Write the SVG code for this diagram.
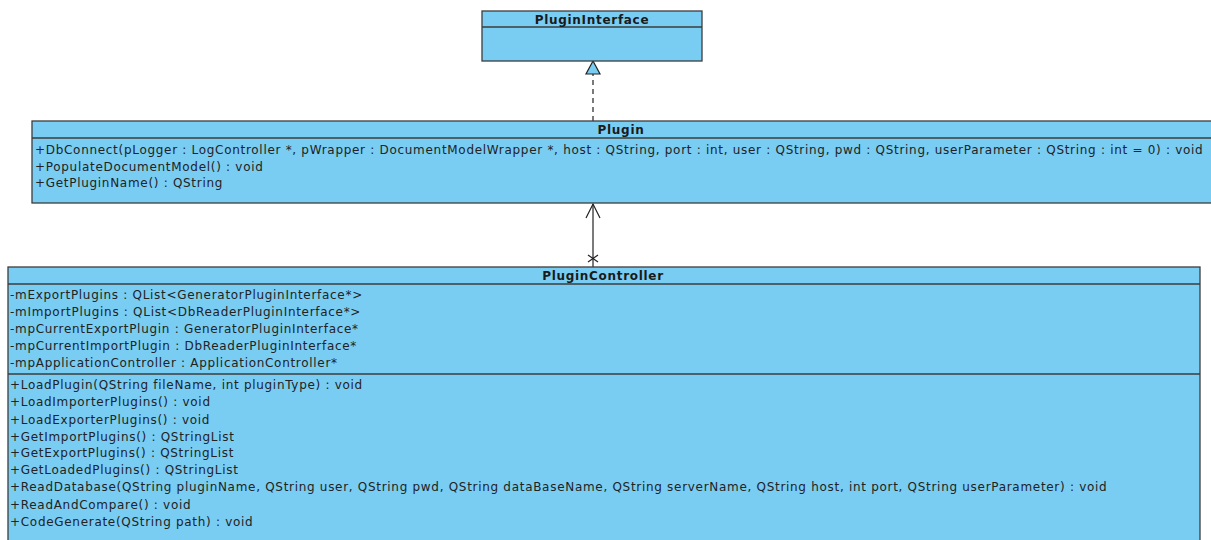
<svg xmlns="http://www.w3.org/2000/svg" width="1211" height="540" viewBox="0 0 1211 540">
  <style>
    .box { fill: #79cdf3; stroke: #3c3c3c; stroke-width: 1.3; }
    .sep { stroke: #3c3c3c; stroke-width: 1.3; }
    .title { font-family: "DejaVu Sans", Verdana, sans-serif; font-size: 12px; letter-spacing: 0.7px; font-weight: bold; fill: #1a1a1a; text-anchor: middle; }
    .member { font-family: "DejaVu Sans", Verdana, sans-serif; font-size: 12px; letter-spacing: 0.7px; fill: #222222; }
    .edge { stroke: #222; stroke-width: 1.2; fill: none; }
  </style>
  <rect width="1211" height="540" fill="#ffffff"/>

  <!-- connectors -->
  <g id="connectors">
    <!-- realization: Plugin -> PluginInterface -->
    <line class="edge" x1="593" y1="121" x2="593" y2="74" stroke-dasharray="5,4"/>
    <polygon points="593,61 586,74 600,74" fill="#79cdf3" stroke="#222" stroke-width="1.2"/>
    <!-- navigable association: PluginController -> Plugin -->
    <line class="edge" x1="593" y1="204" x2="593" y2="267"/>
    <polyline class="edge" points="586,218 593,204 600,218"/>
    <line class="edge" x1="588" y1="255" x2="598" y2="262"/>
    <line class="edge" x1="588" y1="262" x2="598" y2="255"/>
  </g>

  <!-- PluginInterface -->
  <g id="PluginInterface">
    <rect class="box" x="482" y="11" width="220" height="50"/>
    <line class="sep" x1="482" y1="27" x2="702" y2="27"/>
    <text class="title" x="592" y="24">PluginInterface</text>
  </g>

  <!-- Plugin -->
  <g id="Plugin">
    <rect class="box" x="32" y="121" width="1180" height="82"/>
    <line class="sep" x1="32" y1="138" x2="1212" y2="138"/>
    <text class="title" x="621" y="134">Plugin</text>
    <text class="member" x="35" y="154">+DbConnect(pLogger : LogController *, pWrapper : DocumentModelWrapper *, host : QString, port : int, user : QString, pwd : QString, userParameter : QString : int = 0) : void</text>
    <text class="member" x="35" y="171">+PopulateDocumentModel() : void</text>
    <text class="member" x="35" y="187">+GetPluginName() : QString</text>
  </g>

  <!-- PluginController -->
  <g id="PluginController">
    <rect class="box" x="8" y="267" width="1192" height="280"/>
    <line class="sep" x1="8" y1="284" x2="1200" y2="284"/>
    <line class="sep" x1="8" y1="374" x2="1200" y2="374"/>
    <text class="title" x="603" y="280">PluginController</text>
    <text class="member" x="10" y="299">-mExportPlugins : QList&lt;GeneratorPluginInterface*&gt;</text>
    <text class="member" x="10" y="316">-mImportPlugins : QList&lt;DbReaderPluginInterface*&gt;</text>
    <text class="member" x="10" y="333">-mpCurrentExportPlugin : GeneratorPluginInterface*</text>
    <text class="member" x="10" y="350">-mpCurrentImportPlugin : DbReaderPluginInterface*</text>
    <text class="member" x="10" y="367">-mpApplicationController : ApplicationController*</text>
    <text class="member" x="10" y="389">+LoadPlugin(QString fileName, int pluginType) : void</text>
    <text class="member" x="10" y="406">+LoadImporterPlugins() : void</text>
    <text class="member" x="10" y="424">+LoadExporterPlugins() : void</text>
    <text class="member" x="10" y="441">+GetImportPlugins() : QStringList</text>
    <text class="member" x="10" y="457">+GetExportPlugins() : QStringList</text>
    <text class="member" x="10" y="474">+GetLoadedPlugins() : QStringList</text>
    <text class="member" x="10" y="491">+ReadDatabase(QString pluginName, QString user, QString pwd, QString dataBaseName, QString serverName, QString host, int port, QString userParameter) : void</text>
    <text class="member" x="10" y="509">+ReadAndCompare() : void</text>
    <text class="member" x="10" y="526">+CodeGenerate(QString path) : void</text>
  </g>
</svg>
